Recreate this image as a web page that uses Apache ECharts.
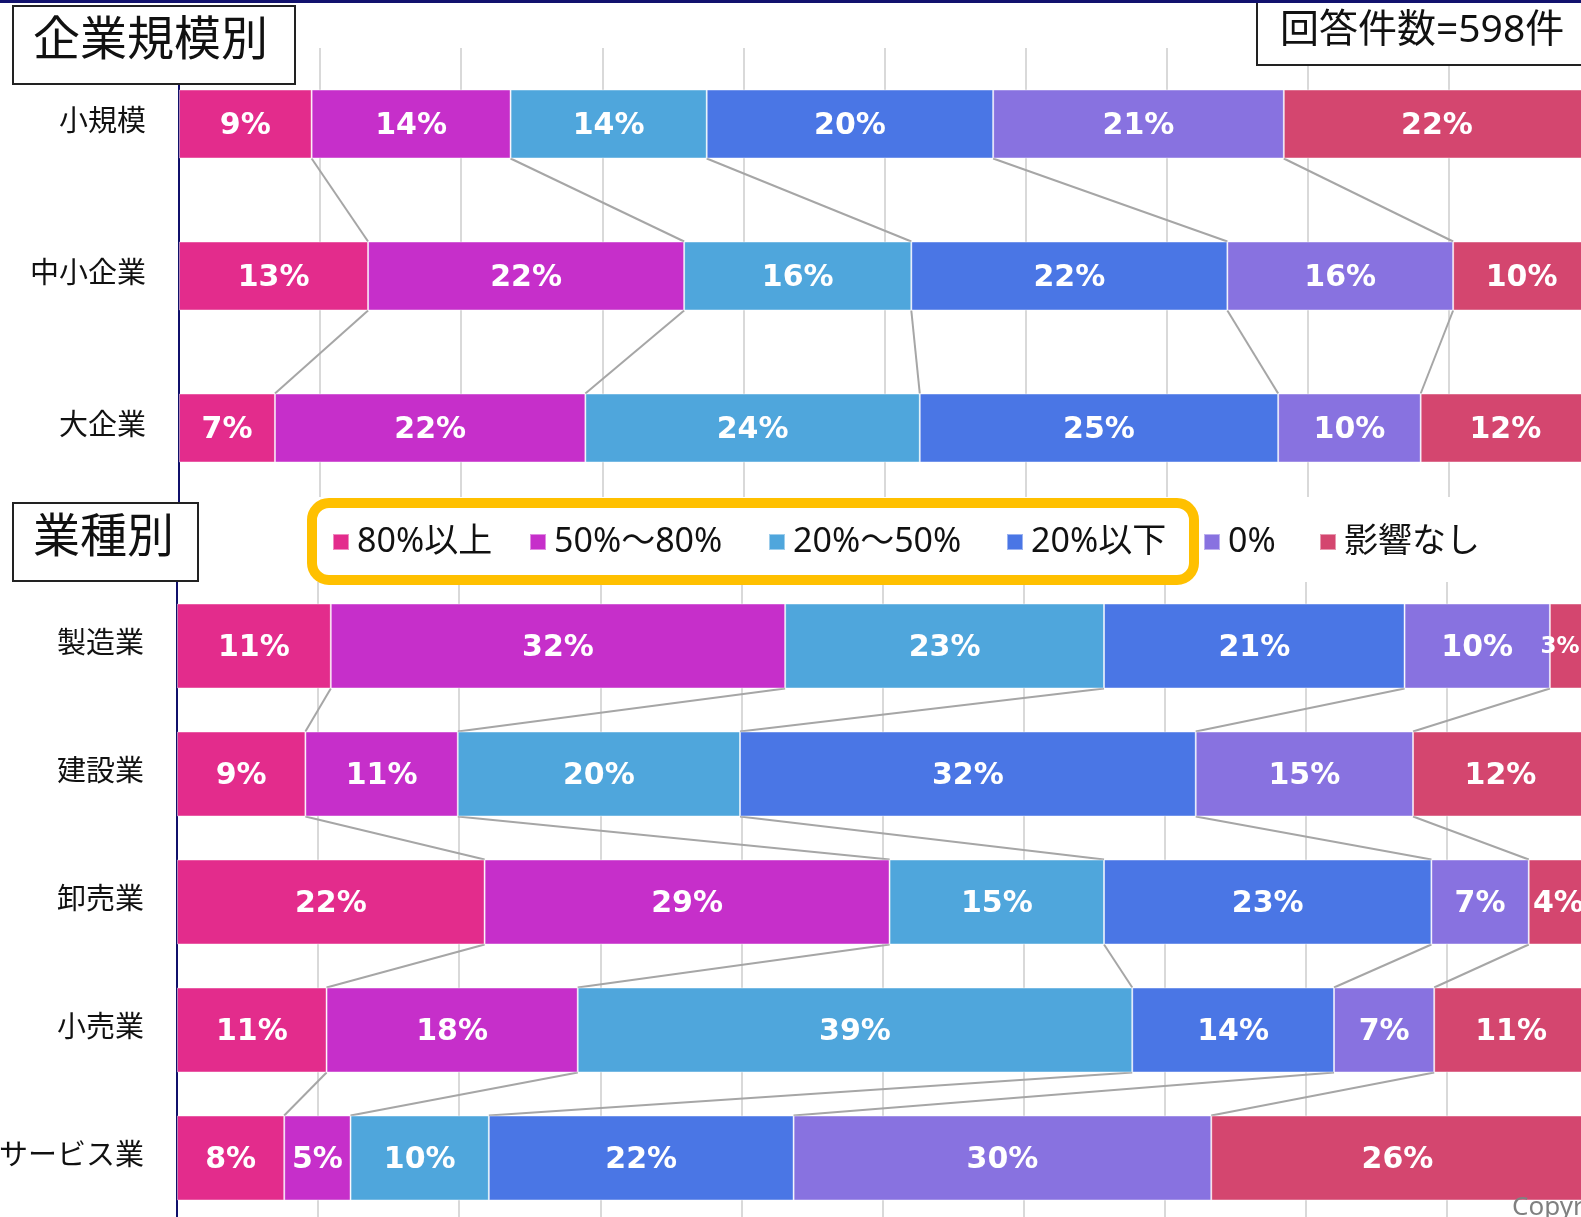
<!DOCTYPE html>
<html>
<head>
<meta charset="utf-8">
<script src="https://cdn.jsdelivr.net/npm/echarts@6/dist/echarts.min.js"></script>
<style>
html,body{margin:0;padding:0;background:#fff;}
#chart{width:1581px;height:1217px;}
</style>
</head>
<body>
<div id="chart"></div>
<script>
// categories
var sizeCats = ['小規模', '中小企業', '大企業'];
var industryCats = ['製造業', '建設業', '卸売業', '小売業', 'サービス業'];
var seriesNames = ['80%以上', '50%～80%', '20%～50%', '20%以下', '0%', '影響なし'];
var colors = ['#E32C8C', '#C62FCA', '#4FA6DC', '#4A76E5', '#8872E0', '#D4466F'];

// 企業規模別 (one row per category, values in series order)
var rowSmall  = [9.4, 14.1, 13.9, 20.3, 20.6, 21.7];
var rowMid    = [13.4, 22.4, 16.1, 22.4, 16.0, 9.7];
var rowLarge  = [6.8, 22.0, 23.7, 25.4, 10.1, 12.0];

// 業種別
var rowMaker   = [10.9, 32.2, 22.6, 21.3, 10.3, 2.7];
var rowBuild   = [9.1, 10.8, 20.0, 32.3, 15.4, 12.4];
var rowWhole   = [21.8, 28.7, 15.2, 23.2, 6.9, 4.2];
var rowRetail  = [10.6, 17.8, 39.3, 14.3, 7.1, 10.9];
var rowService = [7.6, 4.7, 9.8, 21.6, 29.6, 26.4];

var sizeRows = [rowSmall, rowMid, rowLarge];
var industryRows = [rowMaker, rowBuild, rowWhole, rowRetail, rowService];

var legendLeft = [332, 529, 768, 1006, 1203, 1319];
var barW = [69, 85];

var chart = echarts.init(document.getElementById('chart'));

function barSeries(rows, idx) {
    return seriesNames.map(function (name, k) {
        return {
            name: name,
            type: 'bar',
            stack: 'g' + idx,
            xAxisIndex: idx,
            yAxisIndex: idx,
            barWidth: barW[idx],
            z: 3,
            itemStyle: {color: colors[k], borderColor: 'rgba(255,255,255,0.45)', borderWidth: 1},
            label: {
                show: true,
                color: '#fff',
                fontSize: 30,
                fontWeight: 'bold',
                fontFamily: 'DejaVu Sans',
                offset: [0, 2],
                formatter: function (p) { return Math.round(p.value) + '%'; }
            },
            data: rows.map(function (r) {
                var d = {value: r[k]};
                if (r[k] < 3.5) d.label = {fontSize: 23, offset: [-9, 1]};
                return d;
            })
        };
    });
}

// lines joining the segment borders of neighbouring bars
function connectorSeries(rows, idx) {
    var data = [];
    for (var r = 0; r < rows.length - 1; r++) {
        var a = 0, b = 0;
        for (var k = 0; k < 5; k++) {
            a += rows[r][k];
            b += rows[r + 1][k];
            data.push([a, r, b]);
        }
    }
    var half = barW[idx] / 2;
    return {
        type: 'custom',
        xAxisIndex: idx,
        yAxisIndex: idx,
        z: 1,
        silent: true,
        encode: {x: 0, y: 1},
        data: data,
        renderItem: function (params, api) {
            var p1 = api.coord([api.value(0), api.value(1)]);
            var p2 = api.coord([api.value(2), api.value(1) + 1]);
            return {
                type: 'line',
                shape: {x1: p1[0], y1: p1[1] + half, x2: p2[0], y2: p2[1] - half},
                style: {stroke: '#a6a6a6', lineWidth: 2}
            };
        }
    };
}

function xAxis(idx) {
    return {
        gridIndex: idx, type: 'value', min: 0, max: 100, interval: 10,
        axisLabel: {show: false}, axisLine: {show: false}, axisTick: {show: false},
        splitLine: {lineStyle: {color: '#d9d9d9', width: 2}}
    };
}
function yAxis(idx, cats) {
    return {
        gridIndex: idx, type: 'category', data: cats, inverse: true,
        axisLine: {lineStyle: {color: '#10106b', width: 2}},
        axisTick: {show: false},
        axisLabel: {
            margin: 33,
            formatter: function (v) { return '{c|' + v + '}'; },
            rich: {c: {fontSize: 29, color: '#111', fontFamily: 'Noto Sans CJK JP', padding: [0, 0, 9, 0]}}
        }
    };
}

function titleBox(x, y, w, h, text, size, tx, ty) {
    return {
        type: 'group', z: 10,
        children: [
            {type: 'rect', z: 10, shape: {x: x, y: y, width: w, height: h},
             style: {fill: '#fff', stroke: '#222', lineWidth: 2}},
            {type: 'text', z: 11, x: tx, y: ty,
             style: {text: text, fontSize: size, fontFamily: "'Noto Sans','Noto Sans CJK JP'",
                     fill: '#111', verticalAlign: 'middle', align: 'left'}}
        ]
    };
}

var option = {
    animation: false,
    backgroundColor: '#fff',
    grid: [
        {left: 179, right: -9, top: 48, height: 456, outerBoundsMode: 'none'},
        {left: 177, right: -7, top: 582, height: 640, outerBoundsMode: 'none'}
    ],
    xAxis: [xAxis(0), xAxis(1)],
    yAxis: [yAxis(0, sizeCats), yAxis(1, industryCats)],
    legend: seriesNames.map(function (n, i) {
        return {
            data: [n], left: legendLeft[i], top: 525, padding: 0,
            icon: 'rect', itemWidth: 16, itemHeight: 16, selectedMode: false,
            textStyle: {fontSize: 34, color: '#111', fontFamily: "'Noto Sans','Noto Sans CJK JP'", padding: [0, 0, 0, 3]}
        };
    }),
    graphic: {elements: [
        {type: 'rect', z: 1, shape: {x: 300, y: 497, width: 1220, height: 84}, style: {fill: '#fff'}},
        {type: 'rect', z: 5, shape: {x: 312, y: 503, width: 882, height: 77, r: 17},
         style: {fill: 'none', stroke: '#FFC000', lineWidth: 10}},
        {type: 'rect', z: 20, shape: {x: 0, y: 0, width: 1581, height: 3}, style: {fill: '#12126e'}},
        titleBox(13, 6, 282, 78, '企業規模別', 47, 33, 42),
        titleBox(13, 503, 185, 78, '業種別', 47, 33, 539),
        titleBox(1257, 2, 340, 63, '回答件数=598件', 39, 1280, 31),
        {type: 'text', z: 10, x: 1512, y: 1195,
         style: {text: 'Copyright', fontSize: 26, fill: '#808080', fontFamily: 'Noto Sans', verticalAlign: 'top'}}
    ]},
    series: []
        .concat(barSeries(sizeRows, 0))
        .concat(barSeries(industryRows, 1))
        .concat([connectorSeries(sizeRows, 0), connectorSeries(industryRows, 1)])
};

chart.setOption(option);
</script>
</body>
</html>
